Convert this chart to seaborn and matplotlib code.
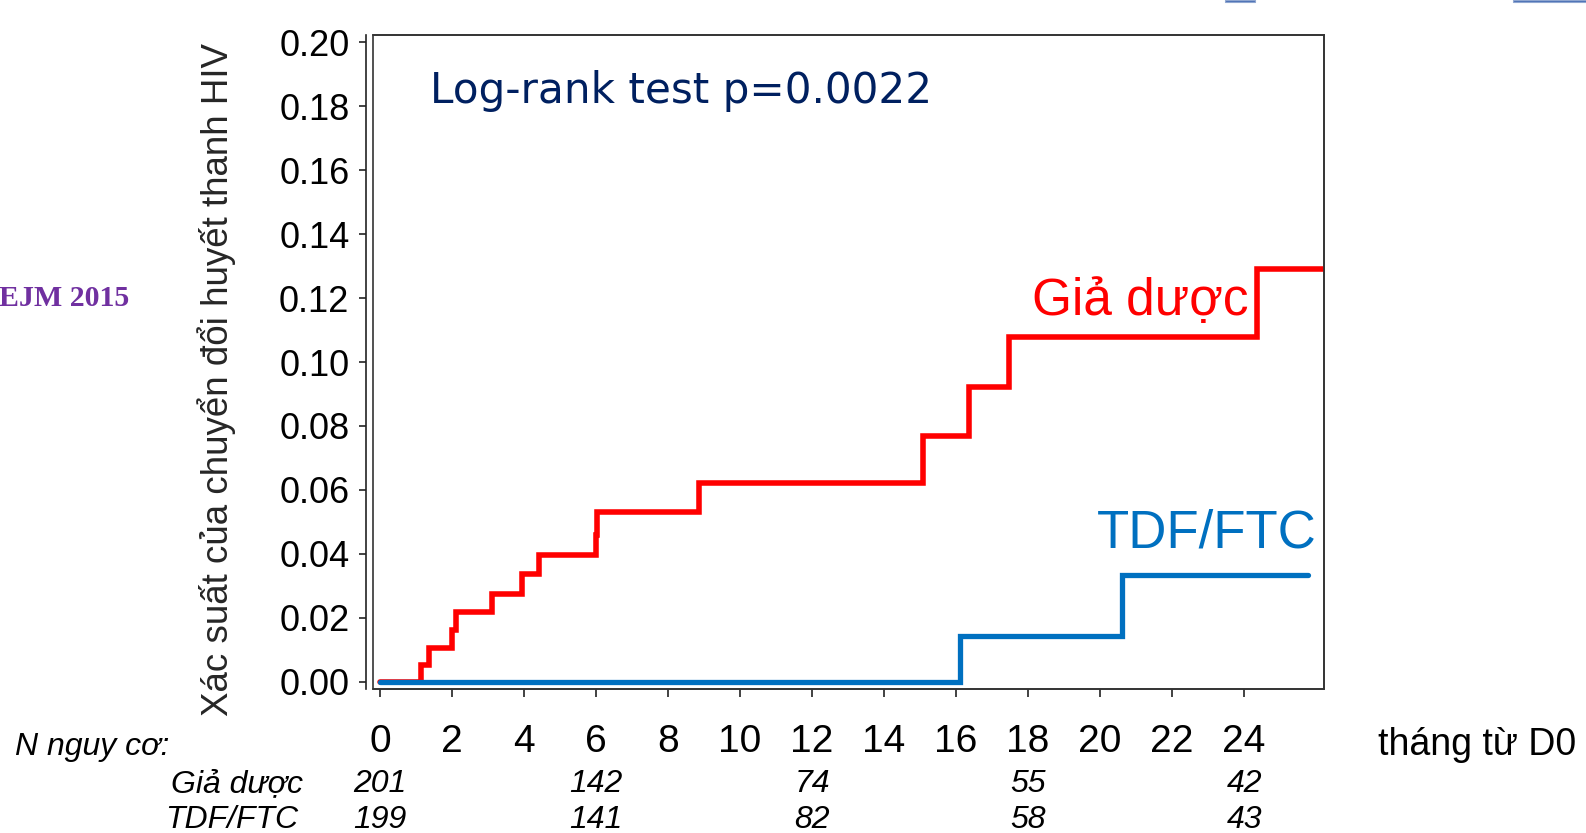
import numpy as np
import pandas as pd
import matplotlib
matplotlib.use("Agg")
import matplotlib.pyplot as plt
import matplotlib.transforms as mtransforms
from matplotlib.patches import Rectangle
import seaborn as sns

# Kaplan-Meier step data (months, cumulative probability)
placebo_t = [0, 1.14, 1.36, 2.0, 2.11, 3.11, 3.94, 4.42, 6.0, 6.03, 8.86, 15.08, 16.36, 17.47, 24.36, 26.22]
placebo_p = [0, 0.0053, 0.0106, 0.0163, 0.0219, 0.0275, 0.0338, 0.0397, 0.046, 0.053, 0.0622,
             0.0769, 0.0922, 0.1078, 0.129, 0.129]
tdf_t = [0, 16.11, 20.6, 25.78]
tdf_p = [0, 0.0144, 0.0334, 0.0334]

# numbers at risk
risk_months = [0, 6, 12, 18, 24]
risk_placebo = [201, 142, 74, 55, 42]
risk_tdf = [199, 141, 82, 58, 43]

x_ticks = list(range(0, 25, 2))
y_ticks = [0.00, 0.02, 0.04, 0.06, 0.08, 0.10, 0.12, 0.14, 0.16, 0.18, 0.20]

RED = '#ff0000'
BLUE = '#0070c0'
NAVY = '#002060'
PURPLE = '#7030a0'

sns.set_style('white')
plt.rcParams['font.family'] = ['Liberation Sans', 'DejaVu Sans']

W, H = 1586, 833
def px(x):
    return x / W
def py(y):
    return 1 - y / H

fig = plt.figure(figsize=(W / 100, H / 100), dpi=100)
ax = fig.add_axes([px(373), py(689), px(1324) - px(373), py(35) - py(689)])

# move the y axis line out first (this resets the ticks)
ax.spines['left'].set_position(('outward', 5))

df_pl = pd.DataFrame({'t': placebo_t, 'p': placebo_p})
df_tdf = pd.DataFrame({'t': tdf_t, 'p': tdf_p})
sns.lineplot(data=df_pl, x='t', y='p', ax=ax, color=RED, lw=4.0, drawstyle='steps-post',
             estimator=None, sort=False, solid_joinstyle='miter')
sns.lineplot(data=df_tdf, x='t', y='p', ax=ax, color=BLUE, lw=3.8, drawstyle='steps-post',
             estimator=None, sort=False, solid_joinstyle='miter')

ax.set_xlim(-0.19, 26.22)
ax.set_ylim(-0.0022, 0.2022)
ax.set_xticks(x_ticks)
ax.set_yticks(y_ticks)
ax.set_yticklabels([f'{v:.2f}' for v in y_ticks])
ax.set_xticklabels([str(v) for v in x_ticks])
ax.tick_params(axis='y', direction='out', length=5, width=1.2, color='#222222', pad=7,
               left=True, labelsize=26, labelcolor='black')
ax.tick_params(axis='x', direction='out', length=6, width=1.2, color='#222222', pad=19,
               bottom=True, labelsize=28, labelcolor='black')
ax.set_xlabel('')
ax.set_ylabel('')

for s in ['top', 'right', 'bottom']:
    ax.spines[s].set_color('#333333')
    ax.spines[s].set_linewidth(1.2)
ax.spines['left'].set_color('#222222')
ax.spines['left'].set_linewidth(1.2)
ax.add_patch(Rectangle((0, 0), 1, 1, transform=ax.transAxes, fill=False,
                       ec='#333333', lw=1.2, clip_on=False))

# annotations inside the plot
fig.text(px(430), py(90.5), 'Log-rank test p=0.0022', color=NAVY, fontsize=30.3,
         family='DejaVu Sans', ha='left', va='center')
fig.text(px(1032), py(315), 'Giả dược', color=RED, fontsize=37, ha='left', va='baseline')
fig.text(px(1097), py(547), 'TDF/FTC', color=BLUE, fontsize=38, ha='left', va='baseline')

# y label
fig.text(px(217), py(379), 'Xác suất của chuyển đổi huyết thanh HIV', rotation=90,
         fontsize=26.5, ha='center', va='center')

# side label
fig.text(px(-1), py(306), 'EJM 2015', color=PURPLE, fontsize=21.5, fontweight='bold',
         family='Liberation Serif', ha='left', va='baseline')

# number at risk table
fig.text(px(15), py(755), 'N nguy cơ:', fontsize=23, style='italic', color='black',
         ha='left', va='baseline')
fig.text(px(1378), py(755), 'tháng từ D0', fontsize=27, color='black', ha='left', va='baseline')
fig.text(px(303), py(792), 'Giả dược', fontsize=23, style='italic', color='black',
         ha='right', va='baseline')
fig.text(px(298), py(828), 'TDF/FTC', fontsize=23, style='italic', color='black',
         ha='right', va='baseline')
trans = mtransforms.blended_transform_factory(ax.transData, fig.transFigure)
for m, a, b in zip(risk_months, risk_placebo, risk_tdf):
    fig.text(m, py(792), str(a), transform=trans, fontsize=23, style='italic', color='black',
             ha='center', va='baseline')
    fig.text(m, py(828), str(b), transform=trans, fontsize=23, style='italic', color='black',
             ha='center', va='baseline')

# slide fragments at the top edge
fig.add_artist(Rectangle((px(1225), py(2)), px(30), 2 / H, transform=fig.transFigure,
                         fc='#4a6fb5', ec='#8fa6d0', lw=0.8))
fig.add_artist(Rectangle((px(1513), py(2)), px(75), 2 / H, transform=fig.transFigure,
                         fc='#4a6fb5', ec='#8fa6d0', lw=0.8))

fig.savefig('out.png', dpi=100)
